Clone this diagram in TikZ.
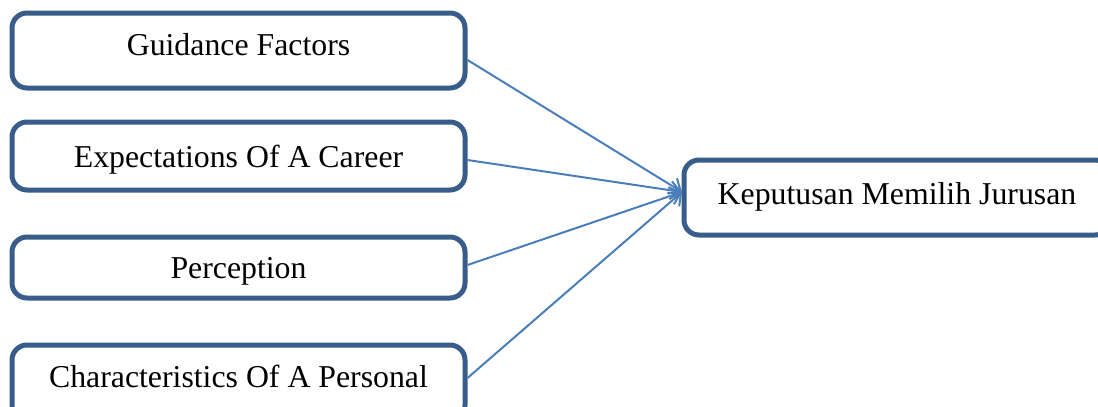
\documentclass[tikz,border=0pt]{standalone}
\usepackage{fontspec}
\setmainfont{Liberation Serif}
\usetikzlibrary{arrows.meta}
\definecolor{boxline}{HTML}{385D8A}
\definecolor{arrowline}{HTML}{4A7EBB}
\begin{document}
\begin{tikzpicture}[x=0.5pt, y=-0.5pt,
    factor/.style={draw=boxline, line width=2.5pt, rounded corners=7.5pt,
        fill=white, minimum width=226.5pt, inner sep=0pt, text depth=0pt,
        font=\fontsize{15.9}{19}\selectfont},
    link/.style={draw=arrowline, line width=1pt,
        -{Straight Barb[length=5pt, width=9pt, line width=1pt]}}]
    % page size of the reference
    \useasboundingbox (0,0) rectangle (1098,407);
    \clip (0,0) rectangle (1098,407);

    % four factors on the left
    \node[factor, minimum height=37.5pt, text height=4.5pt] (guide) at (238.5,50.5) {Guidance Factors};
    \node[factor, minimum height=34pt, text height=11pt] (expect) at (238.5,156) {Expectations Of A Career};
    \node[factor, minimum height=30.5pt, text height=10.5pt] (percept) at (238.5,267.5) {Perception};
    \node[factor, minimum height=37.5pt, text height=4.5pt] (personal) at (238.5,382.5) {Characteristics Of A Personal};

    % decision box on the right
    \node[factor, minimum width=213pt, minimum height=37.5pt, text height=6.5pt] (decide) at (897,197.5) {Keputusan Memilih Jurusan};

    % arrows meet at one point
    \coordinate (hub) at (682,192);
    \draw[link] ([yshift=-4.75pt]guide.east) -- (hub);
    \draw[link] ([yshift=-2pt]expect.east) -- (hub);
    \draw[link] ([yshift=1.25pt]percept.east) -- (hub);
    \draw[link] ([yshift=2.25pt]personal.east) -- (hub);
\end{tikzpicture}
\end{document}
